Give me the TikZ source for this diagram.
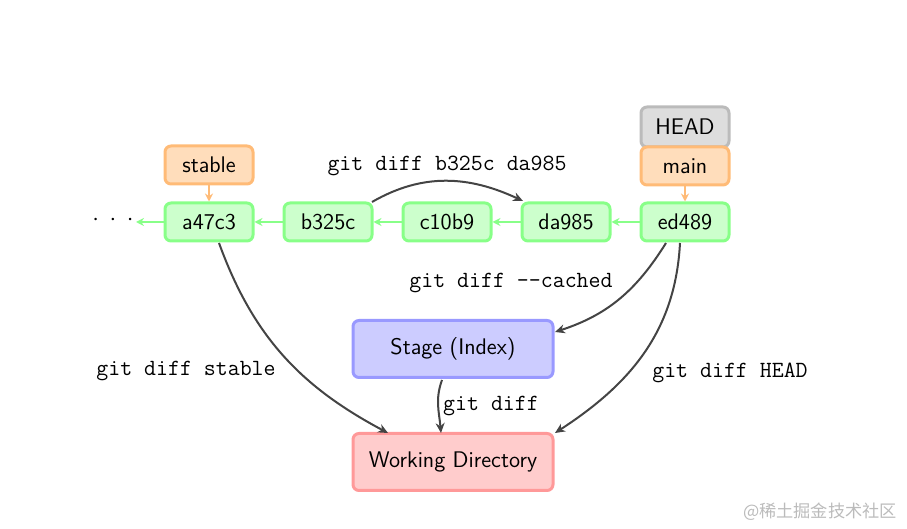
\documentclass[tikz,border=0pt]{standalone}
\usepackage{fontspec}
\usetikzlibrary{arrows.meta}
\newfontfamily\cjkwm{Noto Sans CJK SC}
\definecolor{gfill}{HTML}{CCFFCC}
\definecolor{gdraw}{HTML}{88FF88}
\definecolor{ofill}{HTML}{FFDDBB}
\definecolor{odraw}{HTML}{FFBB77}
\definecolor{hfill}{HTML}{DDDDDD}
\definecolor{hdraw}{HTML}{BBBBBB}
\definecolor{bfill}{HTML}{CCCCFF}
\definecolor{bdraw}{HTML}{9999FF}
\definecolor{rfill}{HTML}{FFCCCC}
\definecolor{rdraw}{HTML}{FF9999}
\definecolor{dark}{HTML}{444444}
\begin{document}
\begin{tikzpicture}[x=0.5pt,y=-0.5pt,
  box/.style={rounded corners=3pt,line width=1.5pt,inner sep=0pt,
    font=\sffamily\fontsize{11.3}{13.5}\selectfont},
  commit/.style={box,draw=gdraw,fill=gfill,minimum width=44pt,minimum height=19pt},
  branch/.style={box,draw=odraw,fill=ofill,minimum width=44pt,minimum height=19pt},
  headbox/.style={box,draw=hdraw,fill=hfill,minimum width=44pt,minimum height=20pt},
  area/.style={box,minimum width=100pt,minimum height=28.5pt},
  garrow/.style={draw=gdraw,line width=0.9pt,-{Stealth[length=4pt,width=4pt]}},
  oarrow/.style={draw=odraw,line width=0.9pt,-{Stealth[length=4pt,width=4pt]}},
  darrow/.style={draw=dark,line width=1pt,-{Stealth[length=5pt,width=4.5pt]}},
  lbl/.style={font=\ttfamily\fontsize{11.6}{13.5}\selectfont,inner sep=0pt}]
\useasboundingbox (0,0) rectangle (907,529);

\node[headbox] (head) at (685,127) {HEAD};
\node[branch] (main) at (685,166) {main};
\node[branch] (stable) at (209,165) {stable};

\node[commit] (a47c3) at (209,222) {a47c3};
\node[commit] (b325c) at (328,222) {b325c};
\node[commit] (c10b9) at (447,222) {c10b9};
\node[commit] (da985) at (566,222) {da985};
\node[commit] (ed489) at (685,222) {ed489};
\node[inner sep=0pt,font=\fontsize{12}{13.5}\selectfont] (dots) at (113,220) {$\cdot\hspace{2.6pt}\cdot\hspace{2.6pt}\cdot$};
\coordinate (dotsend) at (136,222);

\node[area,draw=bdraw,fill=bfill] (stage) at (453,349) {Stage (Index)};
\node[area,draw=rdraw,fill=rfill] (wd) at (453,462) {Working Directory};

\draw[garrow] (ed489) -- (da985);
\draw[garrow] (da985) -- (c10b9);
\draw[garrow] (c10b9) -- (b325c);
\draw[garrow] (b325c) -- (a47c3);
\draw[garrow] (a47c3.west) -- (dotsend);
\draw[oarrow] (stable) -- (a47c3);
\draw[oarrow] (main) -- (ed489);

\coordinate (s1) at (372,202);
\coordinate (e1) at (523,201);
\draw[darrow] (s1) to[out=30,in=155] (e1);
\node[lbl] (l1) at (447,166) {git diff b325c da985};

\coordinate (s2) at (666,243);
\coordinate (e2) at (555,332);
\draw[darrow] (s2) to[out=-122,in=18] (e2);
\node[lbl] (l2) at (511,283) {git diff --cached};

\coordinate (s3) at (680,243);
\coordinate (e3) at (555,433);
\draw[darrow] (s3) to[out=-93,in=33] (e3);
\node[lbl] (l3) at (730,373) {git diff HEAD};

\coordinate (s4) at (219,243);
\coordinate (e4) at (388,433);
\draw[darrow] (s4) to[out=-70,in=152] (e4);
\node[lbl] (l4) at (186,371) {git diff stable};

\coordinate (s5) at (442,380);
\coordinate (e5) at (441,433);
\draw[darrow] (s5) to[out=-110,in=95] (e5);
\node[lbl] (l5) at (491,406) {git diff};

\node[font=\cjkwm\fontsize{8.6}{10}\selectfont,text=hdraw,inner sep=0pt] (wm) at (820,512) {@稀土掘金技术社区};
\end{tikzpicture}
\end{document}
